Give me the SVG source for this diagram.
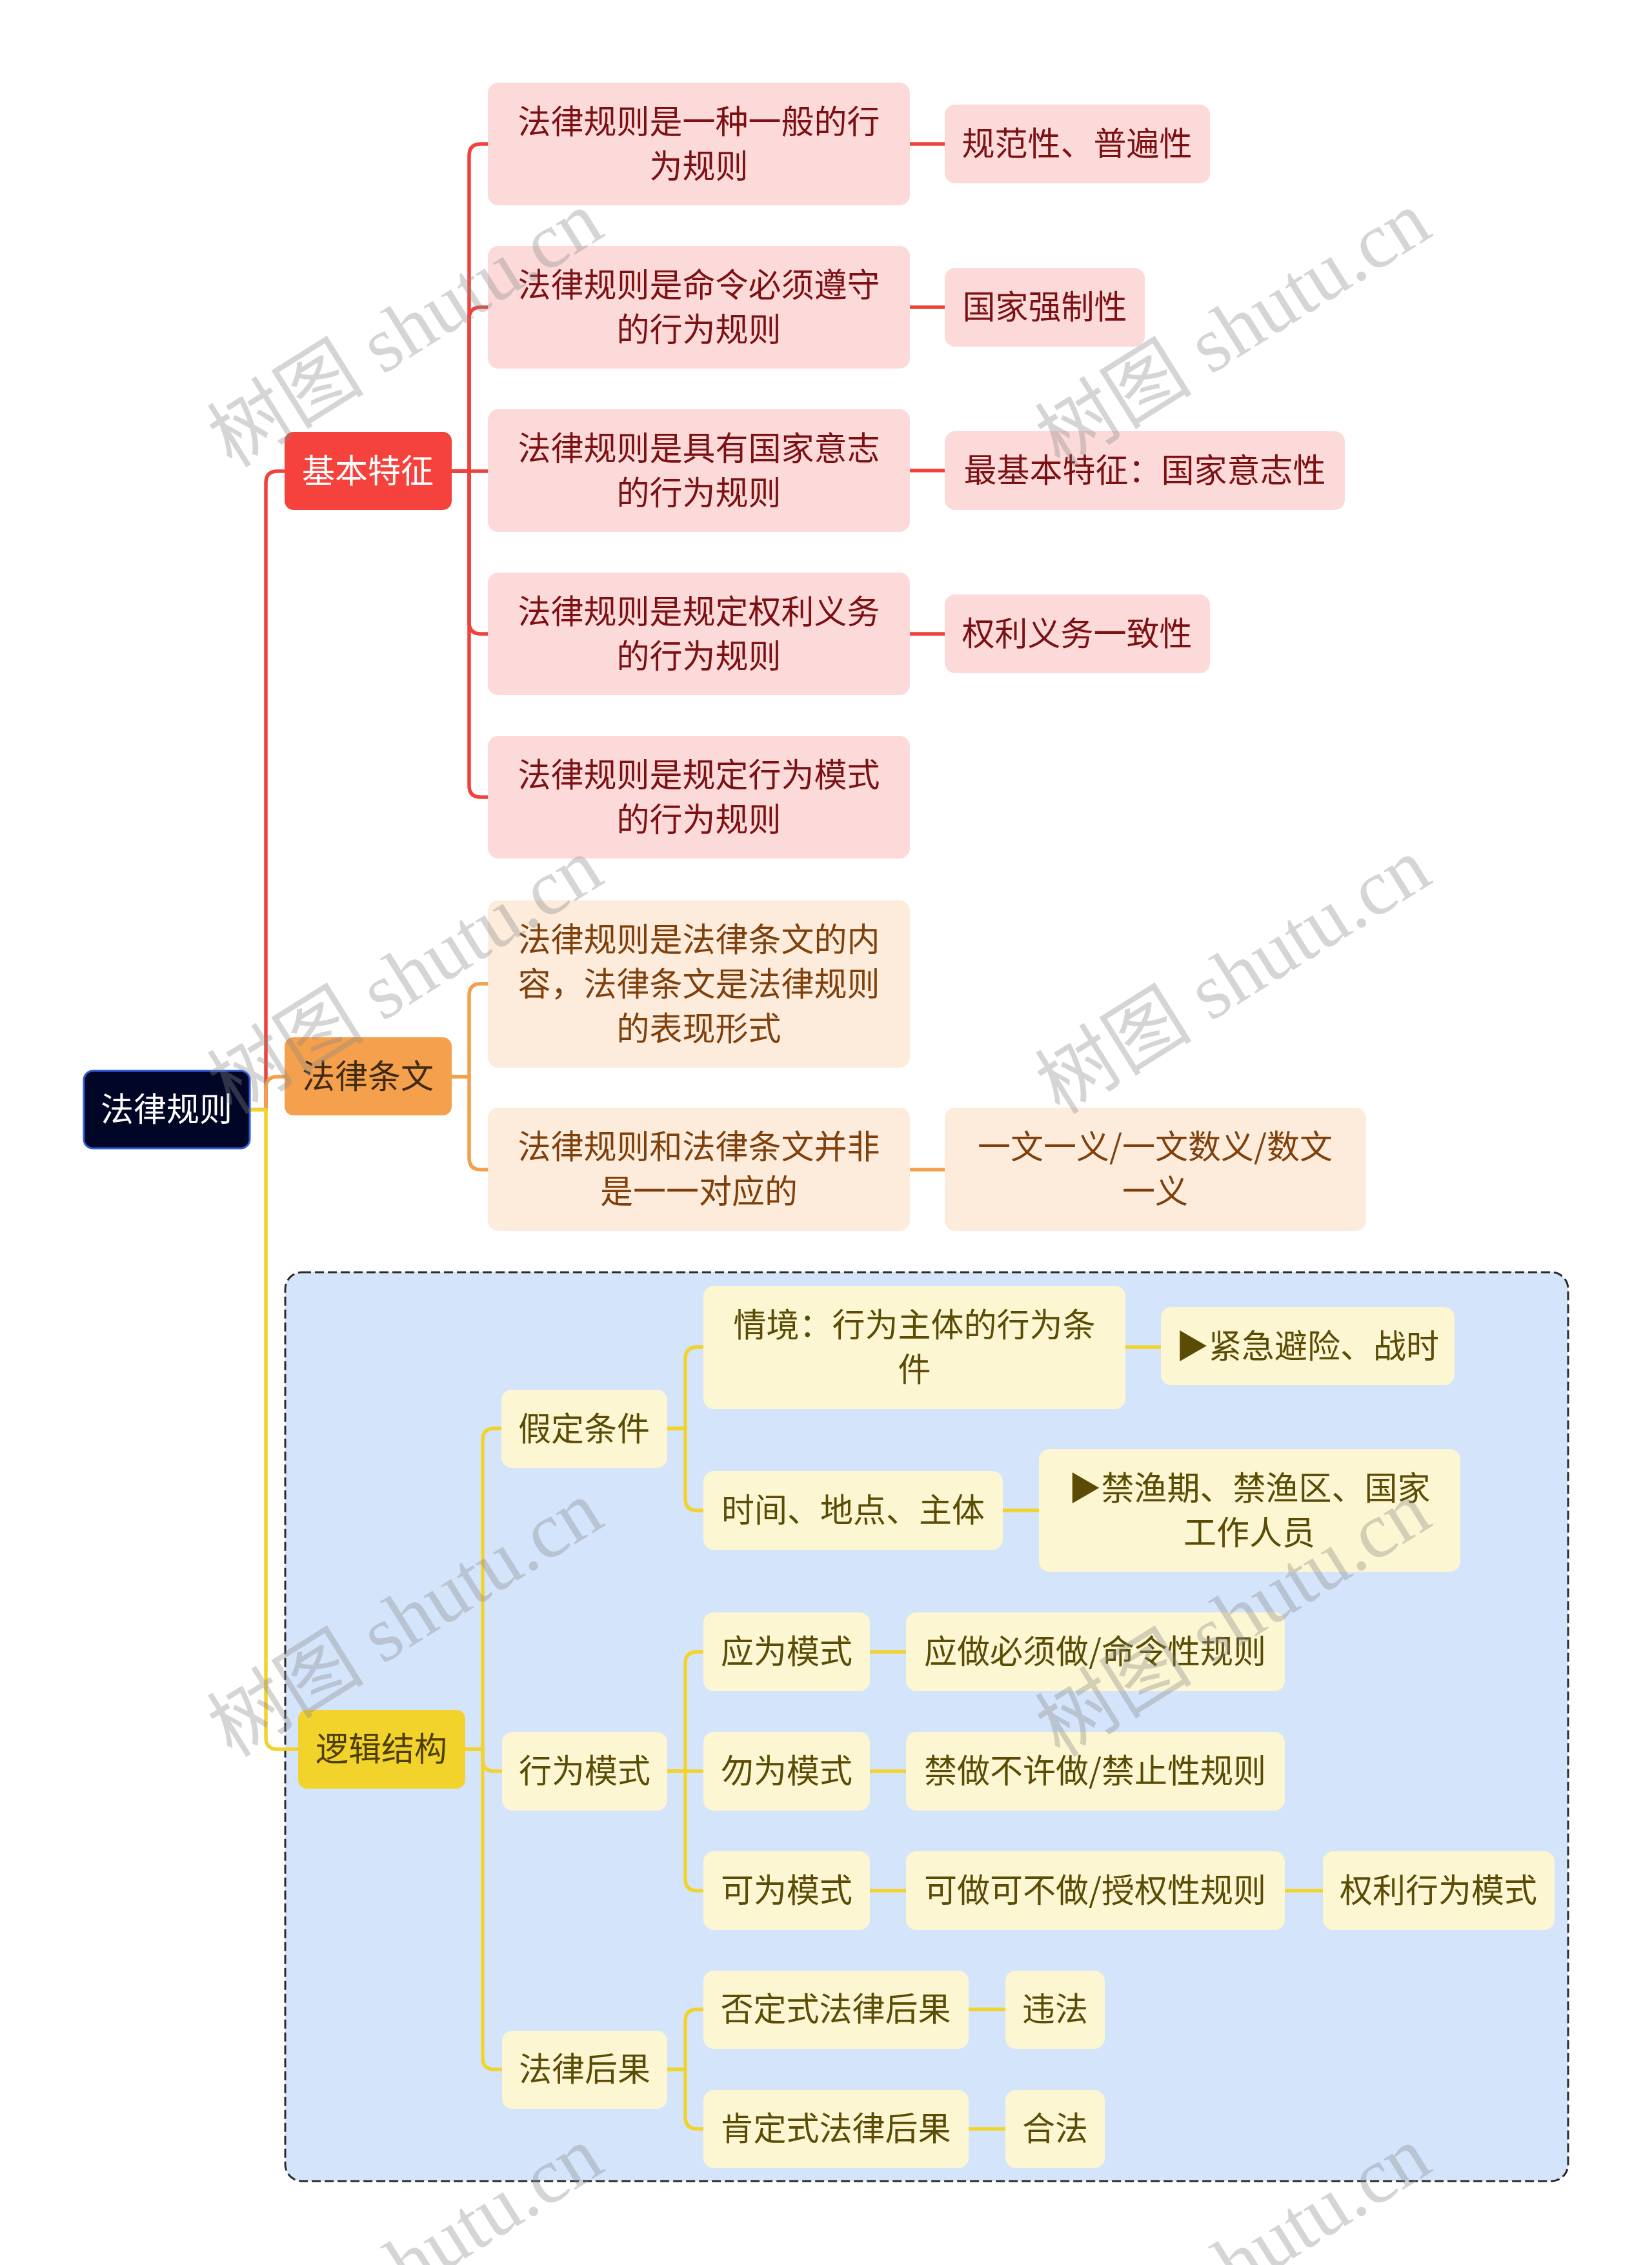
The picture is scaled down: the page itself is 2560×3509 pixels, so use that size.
<svg xmlns="http://www.w3.org/2000/svg" width="2560" height="3509" viewBox="0 0 2560 3509">
<style>
text{font-family:"Noto Sans CJK SC","Noto Sans",sans-serif;font-size:51px;text-anchor:middle}
.c{fill:none;stroke-width:5.5;stroke-linecap:butt;stroke-linejoin:round}
.cr{stroke:#f0423c}.co{stroke:#f3a04c}.cy{stroke:#f2d32c}
.r2{fill:#fddada}.t2r{fill:#7b1113}
.o2{fill:#fdebdc}.t2o{fill:#7f400b}
.y2{fill:#fdf6d2}.t2y{fill:#5b4c05}
.wm{font-family:"Liberation Serif","Noto Sans CJK SC",serif;font-size:122px;fill:#888;opacity:0.35}
</style>
<rect x="0" y="0" width="2560" height="3509" fill="#ffffff"/>
<rect x="442" y="1971" width="1988" height="1408" rx="26" fill="#d4e4fb" stroke="#2b2b2b" stroke-width="3" stroke-dasharray="14 6"/>
<g id="connectors">
<path class="c cr" d="M387 1719 H412 V748 Q412 730 430 730 H441"/>
<path class="c co" d="M387 1719 H412 V1686 Q412 1668 430 1668 H441"/>
<path class="c cy" d="M387 1719 H412 V2692 Q412 2710 430 2710 H462"/>
<path class="c cr" d="M700 730 H727 V241 Q727 223 745 223 H756"/>
<path class="c cr" d="M700 730 H727 V494 Q727 476 745 476 H756"/>
<path class="c cr" d="M700 730 H756"/>
<path class="c cr" d="M700 730 H727 V964 Q727 982 745 982 H756"/>
<path class="c cr" d="M700 730 H727 V1217 Q727 1235 745 1235 H756"/>
<path class="c cr" d="M1410 223 H1464 M1410 476 H1464 M1410 729 H1464 M1410 982 H1464"/>
<path class="c co" d="M700 1668 H727 V1542 Q727 1524 745 1524 H756"/>
<path class="c co" d="M700 1668 H727 V1794 Q727 1812 745 1812 H756"/>
<path class="c co" d="M1410 1812 H1464"/>
<path class="c cy" d="M721 2710 H748 V2231 Q748 2213 766 2213 H777"/>
<path class="c cy" d="M721 2710 H748 V2726 Q748 2744 766 2744 H778"/>
<path class="c cy" d="M721 2710 H748 V3188 Q748 3206 766 3206 H778"/>
<path class="c cy" d="M1034 2213 H1062 V2105 Q1062 2087 1080 2087 H1090"/>
<path class="c cy" d="M1034 2213 H1062 V2322 Q1062 2340 1080 2340 H1090"/>
<path class="c cy" d="M1744 2087 H1799 M1554 2340 H1610"/>
<path class="c cy" d="M1034 2744 H1062 V2577 Q1062 2559 1080 2559 H1090"/>
<path class="c cy" d="M1034 2744 H1090"/>
<path class="c cy" d="M1034 2744 H1062 V2911 Q1062 2929 1080 2929 H1090"/>
<path class="c cy" d="M1348 2559 H1404 M1348 2744 H1404 M1348 2929 H1404 M1991 2929 H2050"/>
<path class="c cy" d="M1034 3206 H1062 V3131 Q1062 3113 1080 3113 H1090"/>
<path class="c cy" d="M1034 3206 H1062 V3280 Q1062 3298 1080 3298 H1090"/>
<path class="c cy" d="M1501 3113 H1558 M1501 3298 H1558"/>
</g>
<g id="root"><rect x="130" y="1659" width="257" height="120" rx="14" fill="#020626" stroke="#2d5bd8" stroke-width="3"/><text x="258" y="1737" fill="#ffffff">法律规则</text></g>
<g id="n1"><rect x="441" y="669" width="259" height="121" rx="14" fill="#f5423c"/><text x="570" y="748" fill="#ffffff">基本特征</text></g>
<g id="n2"><rect x="441" y="1607" width="259" height="121" rx="14" fill="#f4a04c"/><text x="570" y="1686" fill="#3f2a14">法律条文</text></g>
<g id="n3"><rect x="462" y="2649" width="259" height="122" rx="14" fill="#f2d32c"/><text x="591" y="2728" fill="#4e3f00">逻辑结构</text></g>

<g id="r1"><rect class="r2" x="756" y="128" width="654" height="190" rx="16"/><text class="t2r" x="1083" y="207">法律规则是一种一般的行</text><text class="t2r" x="1083" y="276">为规则</text></g>
<g id="r2"><rect class="r2" x="756" y="381" width="654" height="190" rx="16"/><text class="t2r" x="1083" y="460">法律规则是命令必须遵守</text><text class="t2r" x="1083" y="529">的行为规则</text></g>
<g id="r3"><rect class="r2" x="756" y="634" width="654" height="190" rx="16"/><text class="t2r" x="1083" y="713">法律规则是具有国家意志</text><text class="t2r" x="1083" y="782">的行为规则</text></g>
<g id="r4"><rect class="r2" x="756" y="887" width="654" height="190" rx="16"/><text class="t2r" x="1083" y="966">法律规则是规定权利义务</text><text class="t2r" x="1083" y="1035">的行为规则</text></g>
<g id="r5"><rect class="r2" x="756" y="1140" width="654" height="190" rx="16"/><text class="t2r" x="1083" y="1219">法律规则是规定行为模式</text><text class="t2r" x="1083" y="1288">的行为规则</text></g>
<g id="r1a"><rect class="r2" x="1464" y="162" width="411" height="122" rx="16"/><text class="t2r" x="1669" y="241">规范性、普遍性</text></g>
<g id="r2a"><rect class="r2" x="1464" y="415" width="310" height="122" rx="16"/><text class="t2r" x="1619" y="494">国家强制性</text></g>
<g id="r3a"><rect class="r2" x="1464" y="668" width="620" height="122" rx="16"/><text class="t2r" x="1774" y="747">最基本特征：国家意志性</text></g>
<g id="r4a"><rect class="r2" x="1464" y="921" width="411" height="122" rx="16"/><text class="t2r" x="1669" y="1000">权利义务一致性</text></g>

<g id="o1"><rect class="o2" x="756" y="1395" width="654" height="259" rx="16"/><text class="t2o" x="1083" y="1474">法律规则是法律条文的内</text><text class="t2o" x="1083" y="1543">容，法律条文是法律规则</text><text class="t2o" x="1083" y="1612">的表现形式</text></g>
<g id="o2"><rect class="o2" x="756" y="1716" width="654" height="191" rx="16"/><text class="t2o" x="1083" y="1795">法律规则和法律条文并非</text><text class="t2o" x="1083" y="1864">是一一对应的</text></g>
<g id="o2a"><rect class="o2" x="1464" y="1716" width="653" height="191" rx="16"/><text class="t2o" x="1790" y="1795">一文一义/一文数义/数文</text><text class="t2o" x="1790" y="1864">一义</text></g>

<g id="y1"><rect class="y2" x="777" y="2153" width="257" height="121" rx="16"/><text class="t2y" x="905" y="2232">假定条件</text></g>
<g id="y2"><rect class="y2" x="778" y="2683" width="256" height="122" rx="16"/><text class="t2y" x="906" y="2762">行为模式</text></g>
<g id="y3"><rect class="y2" x="778" y="3146" width="256" height="121" rx="16"/><text class="t2y" x="906" y="3224">法律后果</text></g>
<g id="y11"><rect class="y2" x="1090" y="1992" width="654" height="191" rx="16"/><text class="t2y" x="1417" y="2071">情境：行为主体的行为条</text><text class="t2y" x="1417" y="2140">件</text></g>
<g id="y12"><rect class="y2" x="1090" y="2279" width="464" height="122" rx="16"/><text class="t2y" x="1322" y="2358">时间、地点、主体</text></g>
<g id="y11a"><rect class="y2" x="1799" y="2025" width="455" height="121" rx="16"/><text class="t2y" x="2026" y="2104">▶紧急避险、战时</text></g>
<g id="y12a"><rect class="y2" x="1610" y="2245" width="653" height="190" rx="16"/><text class="t2y" x="1936" y="2324">▶禁渔期、禁渔区、国家</text><text class="t2y" x="1936" y="2393">工作人员</text></g>
<g id="y21"><rect class="y2" x="1090" y="2498" width="258" height="122" rx="16"/><text class="t2y" x="1219" y="2577">应为模式</text></g>
<g id="y22"><rect class="y2" x="1090" y="2683" width="258" height="122" rx="16"/><text class="t2y" x="1219" y="2762">勿为模式</text></g>
<g id="y23"><rect class="y2" x="1090" y="2868" width="258" height="122" rx="16"/><text class="t2y" x="1219" y="2947">可为模式</text></g>
<g id="y21a"><rect class="y2" x="1404" y="2498" width="587" height="122" rx="16"/><text class="t2y" x="1697" y="2577">应做必须做/命令性规则</text></g>
<g id="y22a"><rect class="y2" x="1404" y="2683" width="587" height="122" rx="16"/><text class="t2y" x="1697" y="2762">禁做不许做/禁止性规则</text></g>
<g id="y23a"><rect class="y2" x="1404" y="2868" width="587" height="122" rx="16"/><text class="t2y" x="1697" y="2947">可做可不做/授权性规则</text></g>
<g id="y23b"><rect class="y2" x="2050" y="2868" width="359" height="122" rx="16"/><text class="t2y" x="2229" y="2947">权利行为模式</text></g>
<g id="y31"><rect class="y2" x="1090" y="3053" width="411" height="121" rx="16"/><text class="t2y" x="1295" y="3131">否定式法律后果</text></g>
<g id="y32"><rect class="y2" x="1090" y="3238" width="411" height="121" rx="16"/><text class="t2y" x="1295" y="3316">肯定式法律后果</text></g>
<g id="y31a"><rect class="y2" x="1558" y="3053" width="154" height="121" rx="16"/><text class="t2y" x="1635" y="3131">违法</text></g>
<g id="y32a"><rect class="y2" x="1558" y="3238" width="154" height="121" rx="16"/><text class="t2y" x="1635" y="3316">合法</text></g>

<g id="watermarks">
<text class="wm" transform="translate(650 545) rotate(-32)">树图 shutu.cn</text>
<text class="wm" transform="translate(1933 545) rotate(-32)">树图 shutu.cn</text>
<text class="wm" transform="translate(650 1547) rotate(-32)">树图 shutu.cn</text>
<text class="wm" transform="translate(1933 1547) rotate(-32)">树图 shutu.cn</text>
<text class="wm" transform="translate(650 2543) rotate(-32)">树图 shutu.cn</text>
<text class="wm" transform="translate(1933 2543) rotate(-32)">树图 shutu.cn</text>
<text class="wm" transform="translate(650 3543) rotate(-32)">树图 shutu.cn</text>
<text class="wm" transform="translate(1933 3543) rotate(-32)">树图 shutu.cn</text>
</g>
</svg>
